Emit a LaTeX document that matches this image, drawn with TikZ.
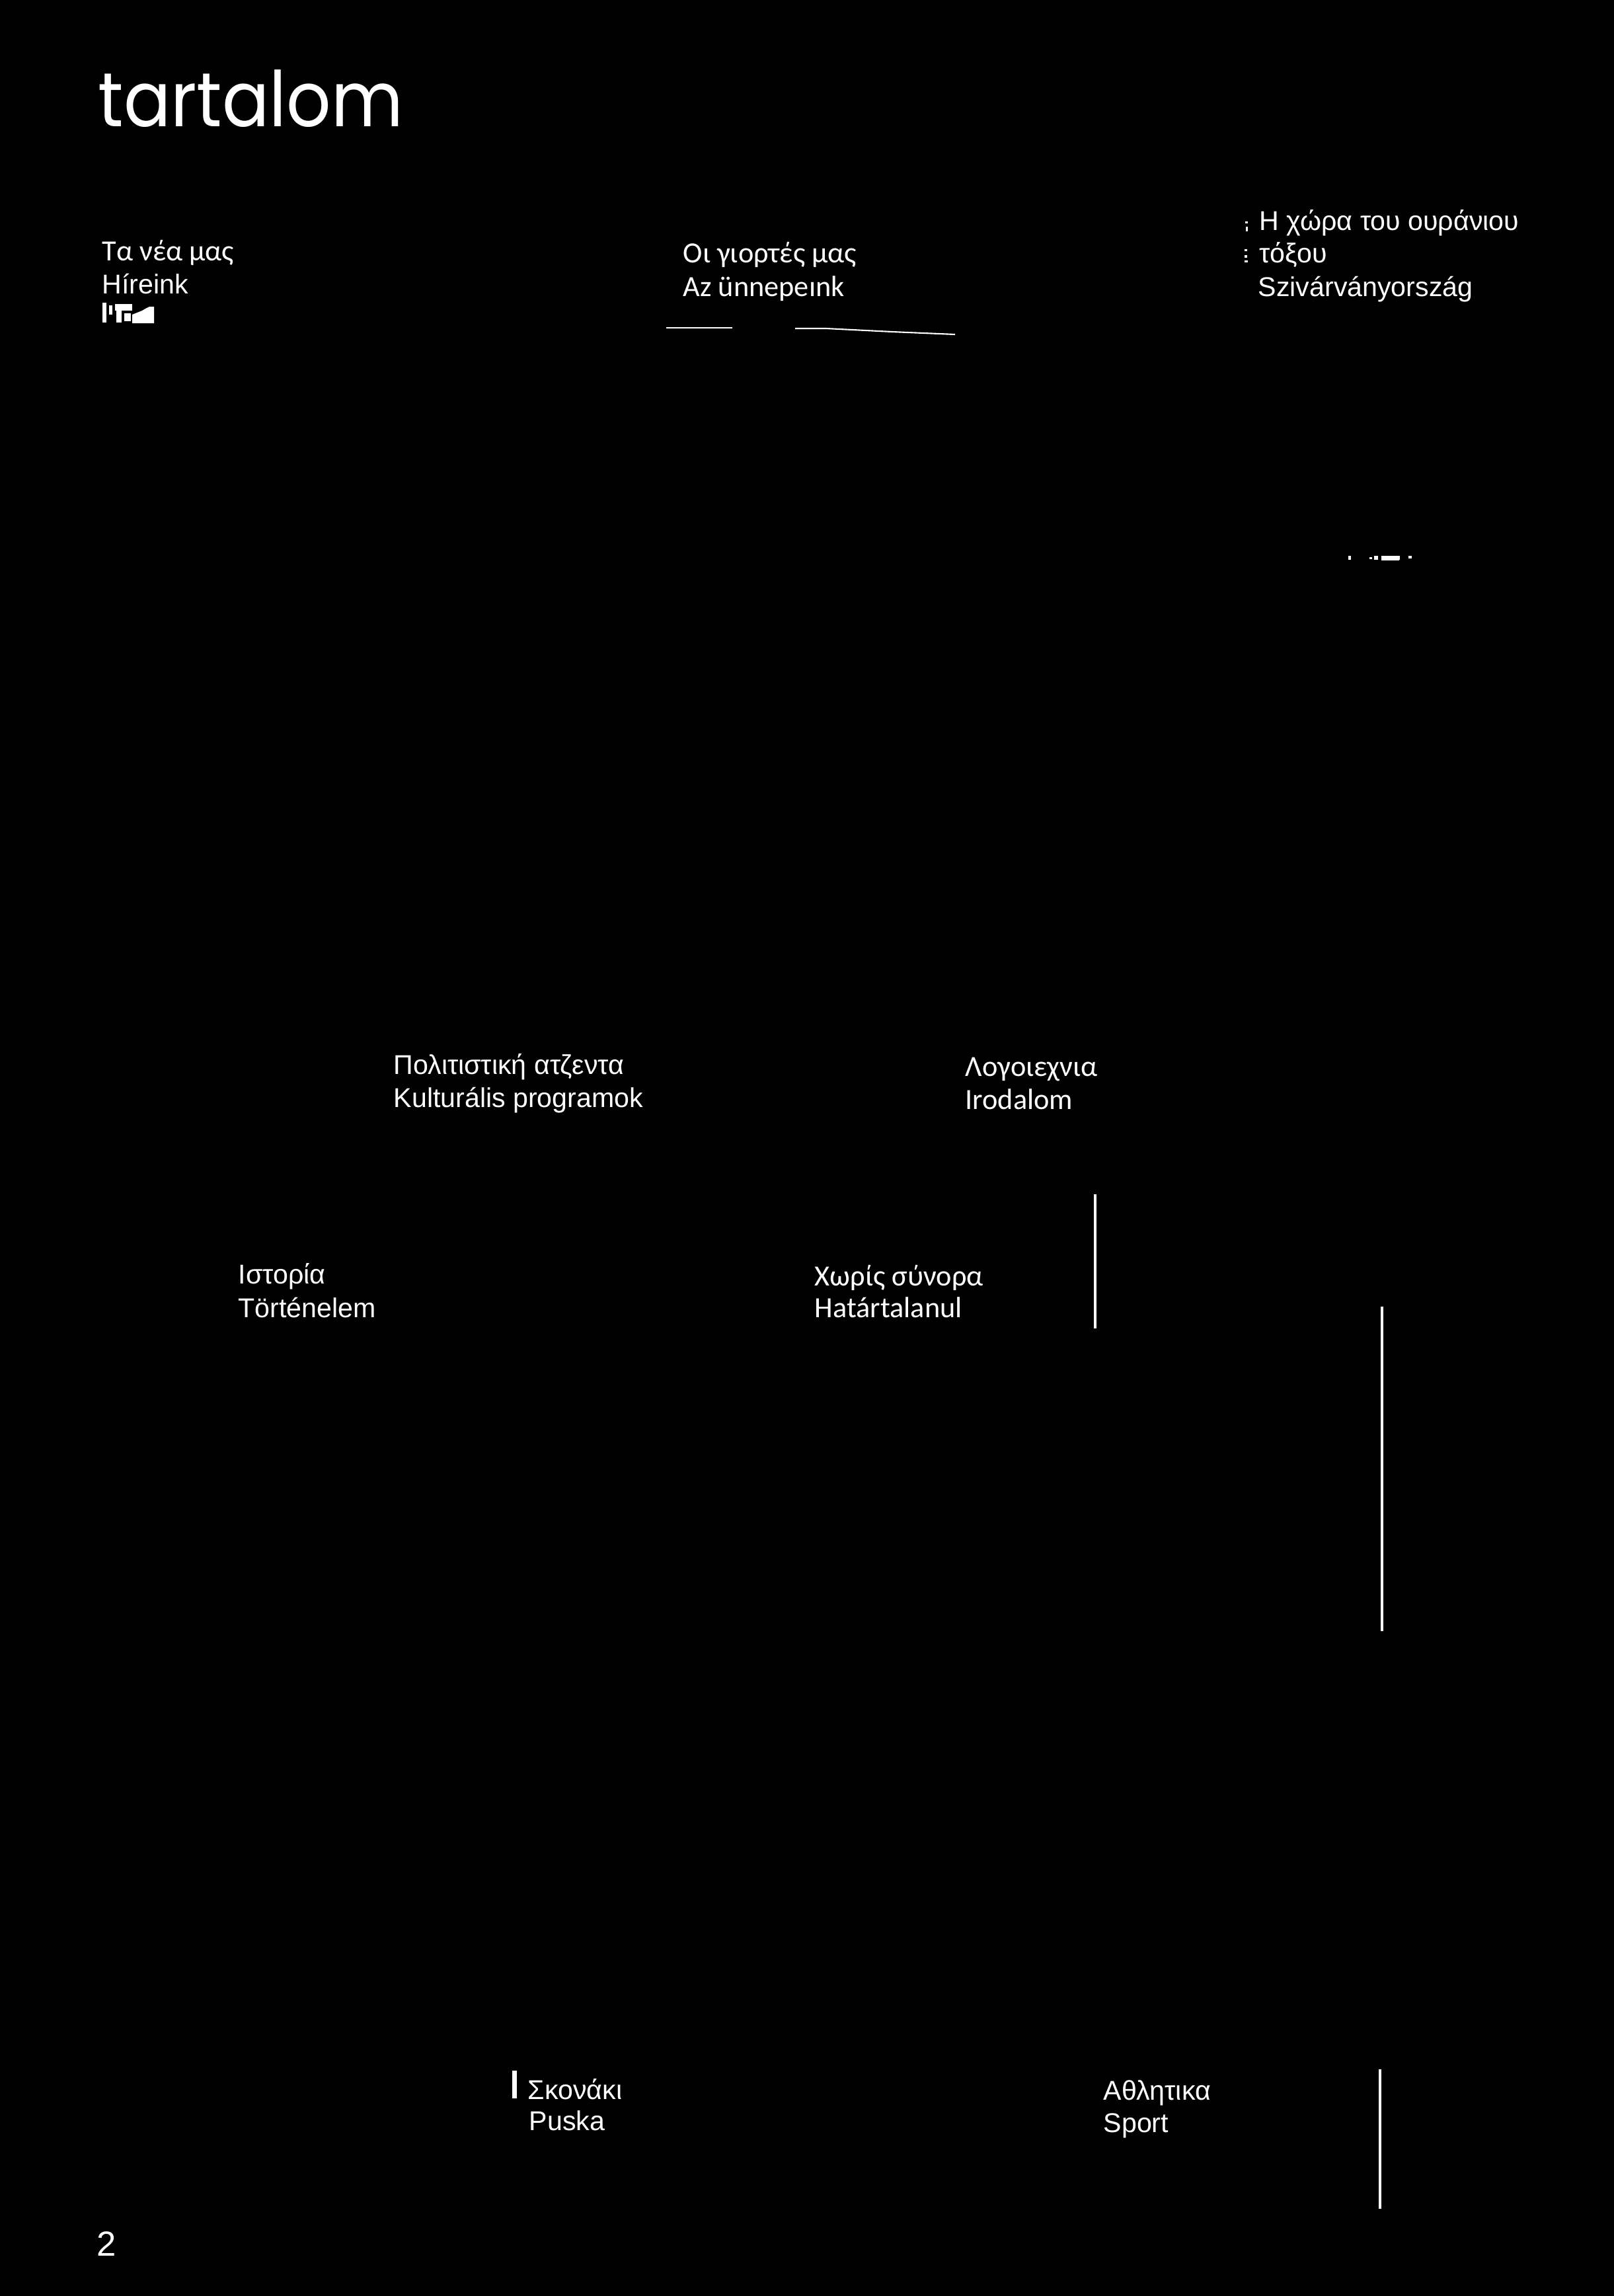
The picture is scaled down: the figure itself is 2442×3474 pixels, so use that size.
\documentclass[tikz,border=0pt]{standalone}
\usepackage{fontspec}
\setmainfont{Liberation Sans}
\newfontfamily\hum{Carlito}
\newfontfamily\geo{Poppins}
\begin{document}
\begin{tikzpicture}[x=0.01cm,y=-0.01cm]
\tikzset{
 txt/.style={text=white, inner sep=0pt, anchor=base west, font=\fontsize{11.7}{14}\selectfont},
 htxt/.style={text=white, inner sep=0pt, anchor=base west, font=\hum\fontsize{12.6}{14}\selectfont},
 vrule/.style={draw=white, line width=1.2pt},
 thin/.style={draw=white, line width=0.6pt},
 speck/.style={fill=white}
}
\fill[black] (0,0) rectangle (2442,3474);
\useasboundingbox (0,0) rectangle (2442,3474);

% title
\node[text=white, inner sep=0pt, anchor=base west, font=\geo\fontsize{33}{40}\selectfont] (title) at (148,191) {\scalebox{0.91}[1]{tartalom}};

% block 1
\node[htxt] (n1a) at (154,394) {Τα νέα μας};
\node[txt] (n1b) at (154,444) {Híreink};
\fill[speck] (155,458) rectangle (161,488);
\fill[speck] (165,462) rectangle (170,476);
\fill[speck] (174,460) rectangle (200,470);
\fill[speck] (176,470) rectangle (184,488);
\fill[speck] (188,474) rectangle (198,486);
\fill[speck] (200,476) -- (215,470) -- (222,466) -- (226,464) -- (233,464) -- (233,489) -- (200,489) -- cycle;

% block 2
\node[htxt] (n2a) at (1033,397) {Οι γιορτές μας};
\node[htxt] (n2b) at (1033,448) {Az ünnepeınk};
\draw[thin] (1008,496) -- (1108,496);
\draw[thin] (1203,497) -- (1250,497) -- (1350,502) -- (1445,506);

% block 3
\fill[speck] (1884,335) rectangle (1888,338);
\fill[speck] (1885,343) rectangle (1888,350);
\fill[speck] (1883,377) rectangle (1887,380);
\fill[speck] (1883,386) rectangle (1887,390);
\fill[speck] (1883,394) rectangle (1888,397);
\node[txt] (n3a) at (1905,348) {Η χώρα του ουράνιου};
\node[txt] (n3b) at (1905,397) {τόξου};
\node[txt] (n3c) at (1903,448) {Szivárványország};

% specks
\fill[speck] (2040,841) rectangle (2044,847);
\fill[speck] (2072,843) rectangle (2076,846);
\fill[speck] (2079,841) rectangle (2085,847);
\fill[speck] (2090,841) rectangle (2117,848);
\fill[speck] (2112,841) rectangle (2118,847);
\fill[speck] (2131,841) rectangle (2136,845);

% block 4
\node[txt] (n4a) at (595,1625) {Πολιτιστική ατζεντα};
\node[txt] (n4b) at (595,1675) {Kulturális programok};

% block 5
\node[htxt] (n5a) at (1460,1628) {Λογοιεχνια};
\node[htxt] (n5b) at (1460,1678) {Irodalom};

% block 6
\node[txt] (n6a) at (360,1942) {Ιστορία};
\node[txt] (n6b) at (360,1993) {Történelem};

% block 7
\node[htxt] (n7a) at (1232,1945) {Χωρίς σύνορα};
\node[htxt] (n7b) at (1232,1993) {Határtalanul};
\draw[vrule] (1657,1807) -- (1657,2010);
\draw[vrule] (2091,1977) -- (2091,2468);

% block 8
\fill[speck] (775,3133) rectangle (782,3175);
\node[txt] (n8a) at (798,3176) {Σκονάκι};
\node[txt] (n8b) at (800,3223) {Puska};

% block 9
\node[txt] (n9a) at (1669,3177) {Αθλητικα};
\node[txt] (n9b) at (1669,3226) {Sport};
\draw[vrule] (2088,3131) -- (2088,3342);

% page number
\node[txt, font=\fontsize{15}{18}\selectfont] (pg) at (146,3413) {2};
\end{tikzpicture}
\end{document}
